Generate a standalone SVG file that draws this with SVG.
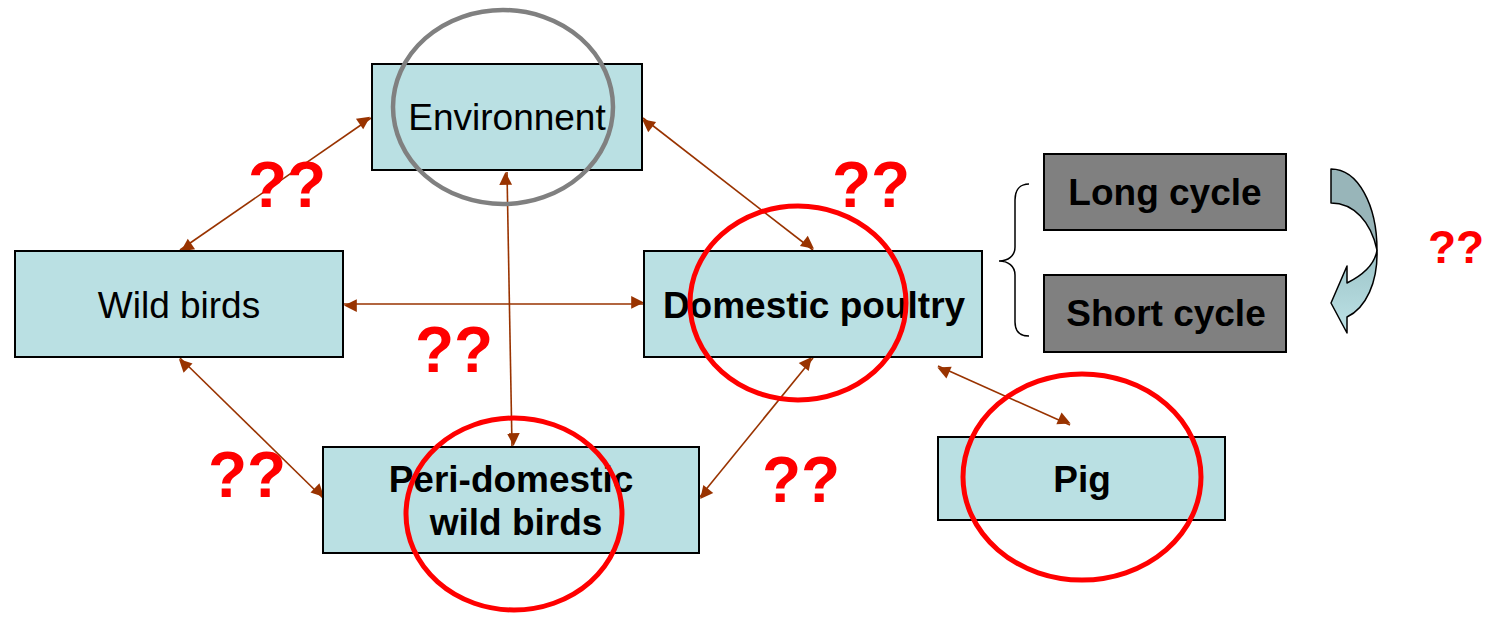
<svg xmlns="http://www.w3.org/2000/svg" width="1486" height="617" viewBox="0 0 1486 617">
<style>
.box{fill:#bae0e3;stroke:#000;stroke-width:2}
.gbox{fill:#808080;stroke:#000;stroke-width:2}
.t{font-family:"Liberation Sans",Arial,sans-serif;font-size:37px;fill:#000;text-anchor:middle}
.b{font-weight:bold}
.q{font-family:"Liberation Sans",Arial,sans-serif;font-weight:bold;font-size:64px;fill:#ff0000;text-anchor:middle}
.con{stroke:#993300;stroke-width:1.6;fill:none;marker-start:url(#ah);marker-end:url(#ah)}
.rc{fill:none;stroke:#ff0000;stroke-width:5}
</style>
<defs>
<marker id="ah" viewBox="0 0 10 10" refX="10" refY="5" markerWidth="9" markerHeight="8" markerUnits="userSpaceOnUse" orient="auto-start-reverse" overflow="visible">
<path d="M0,0 L10,5 L0,10 Z" fill="#993300" transform="scale(1.6)translate(-3.75,-3.1)"/>
</marker>
<linearGradient id="ag" x1="0" y1="0" x2="0" y2="1">
<stop offset="0" stop-color="#9cc3c7"/>
<stop offset="1" stop-color="#bde2e6"/>
</linearGradient>
</defs>

<g id="connectors">
<line class="con" x1="371" y1="118" x2="180" y2="250"/>
<line class="con" x1="643" y1="118" x2="813" y2="250"/>
<line class="con" x1="507" y1="172" x2="512" y2="446"/>
<line class="con" x1="344" y1="304" x2="644" y2="304"/>
<line class="con" x1="180" y1="358" x2="323" y2="498"/>
<line class="con" x1="813" y1="358" x2="699" y2="498"/>
<line class="con" x1="938" y1="366" x2="1070" y2="425"/>
</g>

<g id="environnent">
<rect class="box" x="372" y="64" width="270" height="106"/>
<text class="t" x="507" y="130">Environnent</text>
</g>
<g id="wild-birds">
<rect class="box" x="15" y="251" width="328" height="106"/>
<text class="t" x="179" y="318">Wild birds</text>
</g>
<g id="domestic-poultry">
<rect class="box" x="644" y="251" width="338" height="106"/>
<text class="t b" x="814" y="318">Domestic poultry</text>
</g>
<g id="peri-domestic">
<rect class="box" x="323" y="447" width="376" height="106"/>
<text class="t b" x="511" y="492">Peri-domestic</text>
<text class="t b" x="516" y="535">wild birds</text>
</g>
<g id="pig">
<rect class="box" x="938" y="437" width="287" height="83"/>
<text class="t b" x="1082" y="492">Pig</text>
</g>
<g id="long-cycle">
<rect class="gbox" x="1044" y="154" width="242" height="76"/>
<text class="t b" x="1165" y="205">Long cycle</text>
</g>
<g id="short-cycle">
<rect class="gbox" x="1044" y="275" width="242" height="77"/>
<text class="t b" x="1166" y="326">Short cycle</text>
</g>

<g id="brace">
<path d="M1029,184 C1020,184 1015,190 1015,200 L1015,247 C1015,256 1008,261 999,261 C1008,261 1015,266 1015,275 L1015,322 C1015,331 1020,336 1029,336" fill="none" stroke="#000" stroke-width="1.5"/>
</g>

<g id="curved-arrow" stroke="#000" stroke-width="1.5" stroke-linejoin="round">
<path d="M1331,169 C1358,169 1377,205 1377,250 C1371,222 1354,203 1331,203 Z" fill="#98b5b9"/>
<path d="M1377,250 C1378,282 1366,308 1347,317 L1347,333 L1331,303 L1347,266 L1347,283 C1363,275 1375,264 1377,250 Z" fill="url(#ag)"/>
</g>

<g id="highlights">
<ellipse cx="503" cy="107" rx="110" ry="97" fill="none" stroke="#808080" stroke-width="4.5"/>
<ellipse class="rc" cx="798" cy="303" rx="108" ry="97"/>
<ellipse class="rc" cx="514" cy="514" rx="108" ry="96"/>
<ellipse class="rc" cx="1082" cy="477" rx="119" ry="103"/>
</g>

<g id="question-marks">
<text class="q" x="287" y="207">??</text>
<text class="q" x="871" y="207">??</text>
<text class="q" x="454" y="372">??</text>
<text class="q" x="247" y="497">??</text>
<text class="q" x="801" y="502">??</text>
<text class="q" x="1456" y="263" style="font-size:46px">??</text>
</g>
</svg>
